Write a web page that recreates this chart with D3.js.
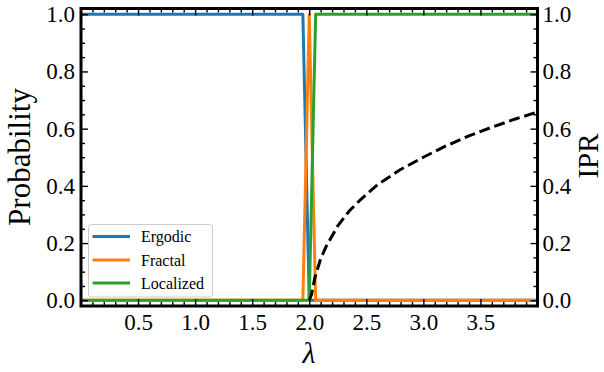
<!DOCTYPE html>
<html>
<head>
<meta charset="utf-8">
<script src="https://cdn.jsdelivr.net/npm/d3@7"></script>
<style>
  html, body { margin: 0; padding: 0; background: #fff; }
  svg { display: block; }
  text { font-family: "Liberation Serif", "DejaVu Serif", serif; fill: #000; }
</style>
</head>
<body>
<svg id="chart" width="604" height="372"></svg>
<script>
// ---- data ----
const seriesNames = ["Ergodic", "Fractal", "Localized"];
const seriesColors = ["#1f77b4", "#ff7f0e", "#2ca02c"];

const ergodicLambda   = [0, 1.944, 2.0, 4.0];
const ergodicProb     = [1, 1, 0, 0];
const fractalLambda   = [0, 1.944, 2.0, 2.056, 4.0];
const fractalProb     = [0, 0, 1, 0, 0];
const localizedLambda = [0, 2.0, 2.056, 4.0];
const localizedProb   = [0, 0, 1, 1];

const iprLambda = [2.0, 2.02, 2.05, 2.1, 2.15, 2.2, 2.25, 2.35, 2.45, 2.6, 2.8, 3.0, 3.2, 3.4, 3.6, 3.8, 4.0];
const iprValue  = [0.0, 0.02, 0.08, 0.145, 0.19, 0.225, 0.26, 0.312, 0.352, 0.405, 0.457, 0.50, 0.54, 0.575, 0.605, 0.633, 0.658];

const xMajorTicks = [0.5, 1.0, 1.5, 2.0, 2.5, 3.0, 3.5];
const yMajorTicks = [0.0, 0.2, 0.4, 0.6, 0.8, 1.0];

// ---- layout ----
const L = 81, R = 537.5, T = 8.5, B = 306;
const svg = d3.select("#chart");

const x = d3.scaleLinear().domain([0, 4]).range([L, R]);
const y = d3.scaleLinear().domain([-0.02, 1.02]).range([B, T]);
const y2 = d3.scaleLinear().domain([-0.02, 1.02]).range([B, T]);

const xMinor = d3.range(1, 40).map(i => i / 10).filter(v => Math.abs(v * 2 - Math.round(v * 2)) > 1e-6);
const yMinor = d3.range(1, 20).map(i => i / 20).filter(v => Math.abs(v * 5 - Math.round(v * 5)) > 1e-6);

svg.append("defs").append("clipPath").attr("id", "clip")
  .append("rect").attr("x", L).attr("y", T).attr("width", R - L).attr("height", B - T);

// ---- series ----
const seriesData = [
  ergodicLambda.map((l, i) => [l, ergodicProb[i]]),
  fractalLambda.map((l, i) => [l, fractalProb[i]]),
  localizedLambda.map((l, i) => [l, localizedProb[i]])
];
const line = d3.line().x(d => x(d[0])).y(d => y(d[1]));
const plot = svg.append("g").attr("clip-path", "url(#clip)");
seriesData.forEach((d, i) => {
  plot.append("path").attr("d", line(d))
    .attr("fill", "none").attr("stroke", seriesColors[i])
    .attr("stroke-width", 3).attr("stroke-linejoin", "round");
});

// ---- axes ----
function styleAxis(g) {
  g.select(".domain").remove();
  g.selectAll(".tick line").attr("stroke", "#000").attr("stroke-width", 1.4);
  g.selectAll("text").style("font-family", "'Liberation Serif', serif").style("font-size", "23px").attr("fill", "#000");
}
// bottom
svg.append("g").attr("transform", `translate(0,${B})`)
  .call(d3.axisBottom(x).tickValues(xMajorTicks).tickFormat(d3.format(".1f")).tickSize(-7).tickPadding(8))
  .call(styleAxis);
svg.append("g").attr("transform", `translate(0,${B})`)
  .call(d3.axisBottom(x).tickValues(xMinor).tickFormat("").tickSize(-4))
  .call(styleAxis);
// top
svg.append("g").attr("transform", `translate(0,${T})`)
  .call(d3.axisTop(x).tickValues(xMajorTicks).tickFormat("").tickSize(-7))
  .call(styleAxis);
svg.append("g").attr("transform", `translate(0,${T})`)
  .call(d3.axisTop(x).tickValues(xMinor).tickFormat("").tickSize(-4))
  .call(styleAxis);
// left
svg.append("g").attr("transform", `translate(${L},0)`)
  .call(d3.axisLeft(y).tickValues(yMajorTicks).tickFormat(d3.format(".1f")).tickSize(-7).tickPadding(6))
  .call(styleAxis);
svg.append("g").attr("transform", `translate(${L},0)`)
  .call(d3.axisLeft(y).tickValues(yMinor).tickFormat("").tickSize(-4))
  .call(styleAxis);
// right
svg.append("g").attr("transform", `translate(${R},0)`)
  .call(d3.axisRight(y2).tickValues(yMajorTicks).tickFormat(d3.format(".1f")).tickSize(-7).tickPadding(5))
  .call(styleAxis);
svg.append("g").attr("transform", `translate(${R},0)`)
  .call(d3.axisRight(y2).tickValues(yMinor).tickFormat("").tickSize(-4))
  .call(styleAxis);

// frame
svg.append("rect").attr("x", L).attr("y", T).attr("width", R - L).attr("height", B - T)
  .attr("fill", "none").attr("stroke", "#000").attr("stroke-width", 3);

// ---- IPR (twin axis) ----
const iprLine = d3.line().x(d => x(d[0])).y(d => y2(d[1]));
svg.append("g").attr("clip-path", "url(#clip)")
  .append("path").attr("d", iprLine(iprLambda.map((l, i) => [l, iprValue[i]])))
  .attr("fill", "none").attr("stroke", "#000").attr("stroke-width", 3)
  .attr("stroke-dasharray", "11,4.8");

// ---- labels ----
svg.append("text").attr("transform", "translate(30,157) rotate(-90)")
  .attr("text-anchor", "middle").style("font-size", "31px").text("Probability");
svg.append("text").attr("transform", "translate(597.5,156) rotate(-90)")
  .attr("text-anchor", "middle").style("font-size", "29px").text("IPR");
svg.append("text").attr("x", 309).attr("y", 363)
  .attr("text-anchor", "middle").style("font-size", "30px").style("font-style", "italic").text("λ");

// ---- legend ----
const leg = svg.append("g");
leg.append("rect").attr("x", 88.5).attr("y", 224.5).attr("width", 124).attr("height", 72.5)
  .attr("rx", 3).attr("fill", "#fff").attr("fill-opacity", 0.8)
  .attr("stroke", "#cccccc").attr("stroke-width", 1);
const legY = [236.5, 260, 283];
seriesNames.forEach((n, i) => {
  leg.append("line").attr("x1", 92.5).attr("x2", 130).attr("y1", legY[i]).attr("y2", legY[i])
    .attr("stroke", seriesColors[i]).attr("stroke-width", 3);
  leg.append("text").attr("x", 141).attr("y", legY[i] + 5.5).style("font-size", "16px").text(n);
});
</script>
</body>
</html>
